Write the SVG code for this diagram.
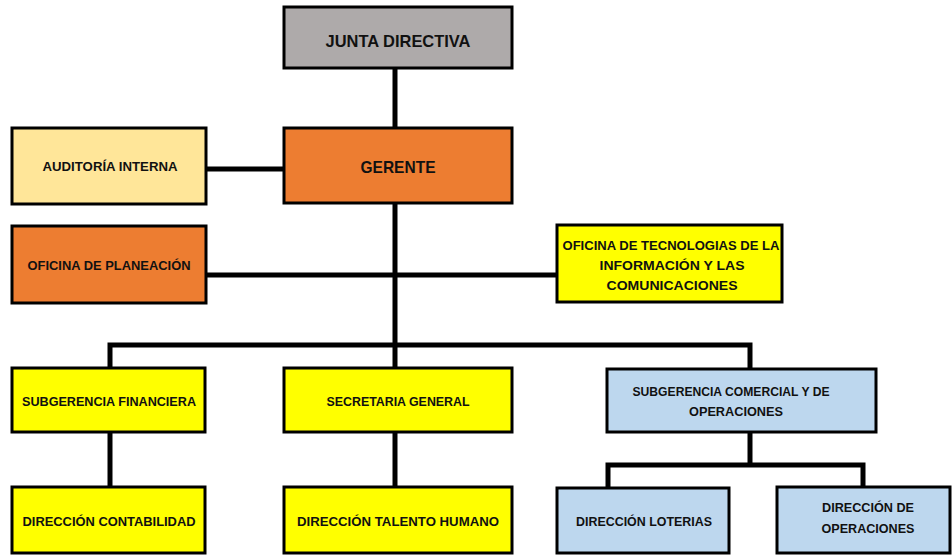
<svg xmlns="http://www.w3.org/2000/svg" width="952" height="555" viewBox="0 0 952 555">
<style>
.box{stroke:#000;stroke-width:3}
.gray{fill:#AEAAAA}.org{fill:#ED7D31}.ly{fill:#FFE699}.yel{fill:#FFFF00}.blu{fill:#BDD7EE}
text{font-family:"Liberation Sans",Arial,sans-serif;font-weight:bold;fill:#111;text-anchor:middle;font-size:13px}
.big{font-size:17px}
.ln{stroke:#000;stroke-width:5;fill:none}
</style>
<rect width="952" height="555" fill="#fff"/>
<g id="connectors">
<line class="ln" x1="395" y1="68" x2="395" y2="128"/>
<line class="ln" x1="206" y1="169" x2="284" y2="169"/>
<line class="ln" x1="395" y1="203" x2="395" y2="368"/>
<line class="ln" x1="206" y1="275" x2="557" y2="275"/>
<polyline class="ln" points="110,368 110,345 750,345 750,369"/>
<line class="ln" x1="110" y1="432" x2="110" y2="487"/>
<line class="ln" x1="395" y1="432" x2="395" y2="487"/>
<line class="ln" x1="750" y1="432" x2="750" y2="465"/>
<polyline class="ln" points="608,488 608,465 863,465 863,487"/>
</g>
<g id="junta"><rect class="box gray" x="284" y="7" width="228" height="61"/><text class="big" x="398" y="47" textLength="145" lengthAdjust="spacingAndGlyphs">JUNTA DIRECTIVA</text></g>
<g id="gerente"><rect class="box org" x="284" y="128" width="228" height="75"/><text class="big" x="398" y="173" textLength="75" lengthAdjust="spacingAndGlyphs">GERENTE</text></g>
<g id="auditoria"><rect class="box ly" x="12" y="128" width="194" height="76"/><text x="110" y="171" textLength="135" lengthAdjust="spacingAndGlyphs">AUDITORÍA INTERNA</text></g>
<g id="planeacion"><rect class="box org" x="12" y="226" width="194" height="77"/><text x="109" y="270" textLength="163" lengthAdjust="spacingAndGlyphs">OFICINA DE PLANEACIÓN</text></g>
<g id="tic"><rect class="box yel" x="557" y="225" width="225" height="77"/>
<text x="671" y="250" textLength="217" lengthAdjust="spacingAndGlyphs">OFICINA DE TECNOLOGIAS DE LA</text>
<text x="672" y="270" textLength="145" lengthAdjust="spacingAndGlyphs">INFORMACIÓN Y LAS</text>
<text x="672" y="290" textLength="131" lengthAdjust="spacingAndGlyphs">COMUNICACIONES</text></g>
<g id="subfin"><rect class="box yel" x="12" y="368" width="193" height="64"/><text x="109" y="406" textLength="174" lengthAdjust="spacingAndGlyphs">SUBGERENCIA FINANCIERA</text></g>
<g id="secgen"><rect class="box yel" x="284" y="368" width="228" height="64"/><text x="398" y="406" textLength="143" lengthAdjust="spacingAndGlyphs">SECRETARIA GENERAL</text></g>
<g id="subcom"><rect class="box blu" x="607" y="369" width="269" height="63"/>
<text x="731" y="396" textLength="197" lengthAdjust="spacingAndGlyphs">SUBGERENCIA COMERCIAL Y DE</text>
<text x="736" y="416" textLength="94" lengthAdjust="spacingAndGlyphs">OPERACIONES</text></g>
<g id="contab"><rect class="box yel" x="12" y="487" width="193" height="66"/><text x="109" y="526" textLength="173" lengthAdjust="spacingAndGlyphs">DIRECCIÓN CONTABILIDAD</text></g>
<g id="talento"><rect class="box yel" x="284" y="487" width="228" height="66"/><text x="398" y="526" textLength="202" lengthAdjust="spacingAndGlyphs">DIRECCIÓN TALENTO HUMANO</text></g>
<g id="loterias"><rect class="box blu" x="557" y="488" width="172" height="65"/><text x="644" y="526" textLength="136" lengthAdjust="spacingAndGlyphs">DIRECCIÓN LOTERIAS</text></g>
<g id="operaciones"><rect class="box blu" x="777" y="487" width="173" height="66"/>
<text x="868" y="512" textLength="92" lengthAdjust="spacingAndGlyphs">DIRECCIÓN DE</text>
<text x="868" y="533" textLength="93" lengthAdjust="spacingAndGlyphs">OPERACIONES</text></g>
</svg>
